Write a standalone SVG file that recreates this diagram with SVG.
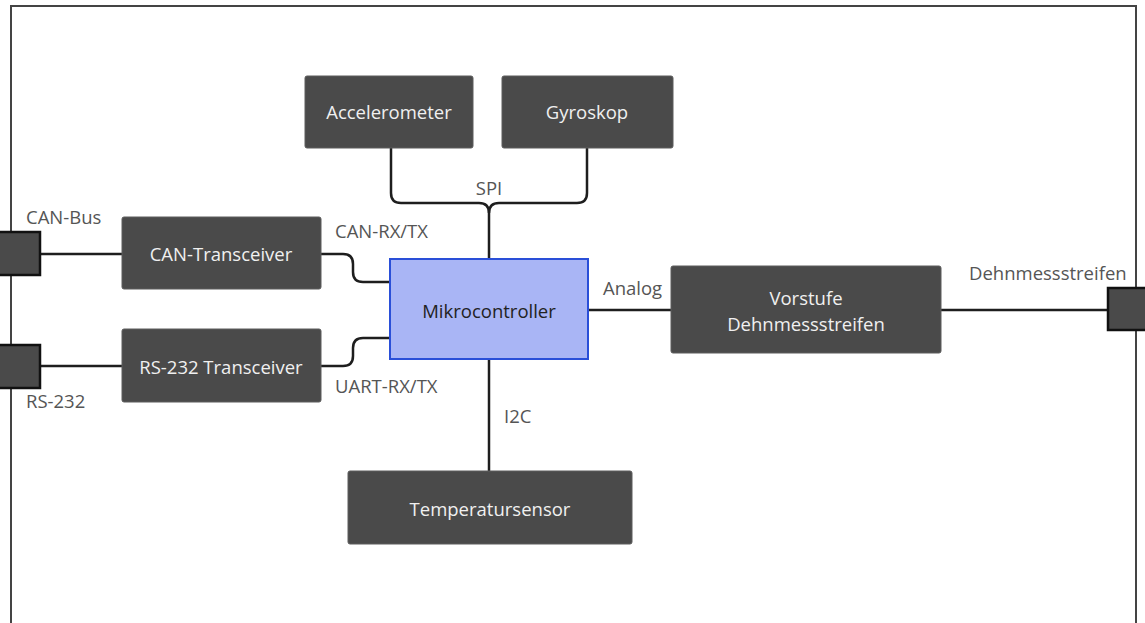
<svg xmlns="http://www.w3.org/2000/svg" width="1145" height="623" viewBox="0 0 1145 623">
<style>
.node{fill:#4a4a4a;stroke:#5c5c5c;stroke-width:1}
.nt{font-family:"Open Sans","Noto Sans",sans-serif;font-size:18.5px;fill:#f0f0f0;text-anchor:middle}
.lbl{font-family:"Open Sans","Noto Sans",sans-serif;font-size:18.5px;fill:#555}
.wire{fill:none;stroke:#1e1e1e;stroke-width:2.5}
.port{fill:#4a4a4a;stroke:#111;stroke-width:2.5}
</style>
<rect x="0" y="0" width="1145" height="623" fill="#fff"/>
<rect id="frame" x="11" y="6" width="1125" height="640" fill="none" stroke="#444" stroke-width="2"/>
<g id="connectors">
<path class="wire" d="M40,254 H122"/>
<path class="wire" d="M40,366 H122"/>
<path class="wire" d="M321,254 H343 Q353,254 353,264 V272 Q353,282 363,282 H390"/>
<path class="wire" d="M321,366 H343 Q353,366 353,356 V348 Q353,338 363,338 H390"/>
<path class="wire" d="M391,148 V193 Q391,203 401,203 H479 Q489,203 489,213 V259"/>
<path class="wire" d="M587,148 V193 Q587,203 577,203 H499 Q489,203 489,213"/>
<path class="wire" d="M489,359 V471"/>
<path class="wire" d="M588,310 H671"/>
<path class="wire" d="M941,310 H1108"/>
</g>
<g id="labels">
<text class="lbl" x="26" y="224">CAN-Bus</text>
<text class="lbl" x="26" y="408">RS-232</text>
<text class="lbl" x="335" y="238">CAN-RX/TX</text>
<text class="lbl" x="335" y="393">UART-RX/TX</text>
<text class="lbl" x="489" y="195" text-anchor="middle">SPI</text>
<text class="lbl" x="603" y="295">Analog</text>
<text class="lbl" x="504" y="423">I2C</text>
<text class="lbl" x="969" y="280">Dehnmessstreifen</text>
</g>
<g id="port-can"><rect class="port" x="-5" y="232" width="45" height="43"/></g>
<g id="port-rs232"><rect class="port" x="-5" y="345" width="45" height="43"/></g>
<g id="port-dms"><rect class="port" x="1108" y="288" width="45" height="42"/></g>
<g id="accelerometer"><rect class="node" x="305" y="76" width="168" height="72" rx="2"/><text class="nt" x="389" y="119">Accelerometer</text></g>
<g id="gyroskop"><rect class="node" x="502" y="76" width="171" height="72" rx="2"/><text class="nt" x="587" y="119">Gyroskop</text></g>
<g id="can-transceiver"><rect class="node" x="122" y="217" width="199" height="72" rx="2"/><text class="nt" x="221" y="261">CAN-Transceiver</text></g>
<g id="rs232-transceiver"><rect class="node" x="122" y="329" width="199" height="73" rx="2"/><text class="nt" x="221" y="374">RS-232 Transceiver</text></g>
<g id="mikrocontroller"><rect x="390" y="259" width="198" height="100" fill="#a9b5f5" stroke="#2a4fd8" stroke-width="2"/><text class="nt" x="489" y="318" style="fill:#222">Mikrocontroller</text></g>
<g id="vorstufe"><rect class="node" x="671" y="266" width="270" height="87" rx="2"/><text class="nt" x="806" y="305">Vorstufe</text><text class="nt" x="806" y="331">Dehnmessstreifen</text></g>
<g id="temperatursensor"><rect class="node" x="348" y="471" width="284" height="73" rx="2"/><text class="nt" x="490" y="516">Temperatursensor</text></g>
</svg>
